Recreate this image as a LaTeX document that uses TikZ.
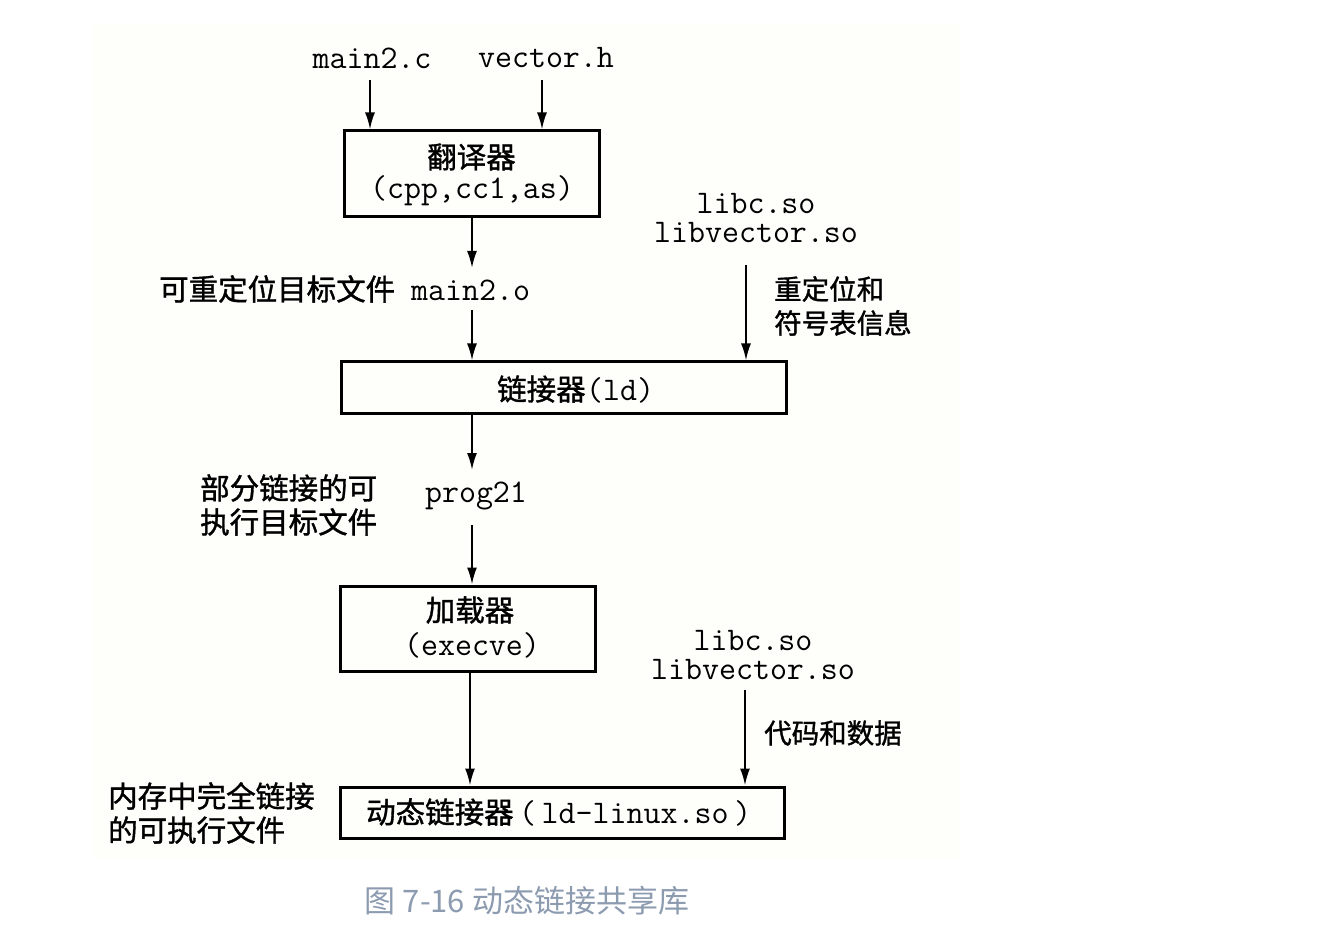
\documentclass[tikz,border=0pt]{standalone}
\usepackage{fontspec}
\newfontfamily\cjk{Noto Sans CJK SC}[FakeBold=1.2]
\newfontfamily\cjkcap{Noto Sans CJK SC}
\usetikzlibrary{arrows.meta}
\definecolor{capcol}{HTML}{8C9BB0}
\definecolor{scanbg}{HTML}{FEFEFB}
\begin{document}
\begin{tikzpicture}[x=1pt,y=-1pt,
  mono/.style={font=\fontsize{33}{37}\selectfont\ttfamily, inner sep=0pt},
  libs/.style={font=\fontsize{33}{29}\selectfont\ttfamily, inner sep=0pt, align=center},
  zh/.style={font=\fontsize{29.5}{34}\selectfont\cjk, inner sep=0pt},
  zhs/.style={font=\fontsize{27.5}{34}\selectfont\cjk, inner sep=0pt, anchor=west, align=left},
  zhl/.style={zh, anchor=west, align=left},
  procbox/.style={draw, line width=3pt, inner sep=0pt},
  flow/.style={line width=2pt, -{Latex[length=17pt,width=10pt]}}
]
\fill[white] (0,0) rectangle (1334,933);
\useasboundingbox (0,0) rectangle (1334,933);
\fill[scanbg] (94,23) rectangle (960,858);

% inputs
\node[mono] (mainc) at (372,58) {main2.c};
\node[mono] (vech) at (546,58) {vector.h};
\coordinate (mainctop) at (370,80);
\coordinate (vechtop) at (542,80);

% box 1
\node[procbox, minimum width=255pt, minimum height=86pt] (trans) at (471.5,174) {};
\node[zh] (transzh) at (471.5,157) {翻译器};
\node[mono] (transtt) at (472,191) {(cpp,cc1,as)};
\draw[flow] (mainctop) -- (mainctop |- trans.north);
\draw[flow] (vechtop) -- (vechtop |- trans.north);

% main2.o
\node[zhl] (relzh) at (159,289) {可重定位目标文件};
\node[mono, anchor=west] (maino) at (411,290) {main2.o};
\coordinate (a1s) at (472,217);
\coordinate (a1e) at (472,268);
\draw[flow] (trans.south -| a1s) -- (a1e);

% libs 1
\node[libs] (libs1) at (756,218) {libc.so\\libvector.so};
\node[zhs] (relinfo) at (774,306) {重定位和\\符号表信息};

% box 2
\node[procbox, minimum width=445pt, minimum height=51pt] (linker) at (563.5,387.5) {};
\node[zh, anchor=west] (linkerzh) at (497,389) {链接器};
\node[mono, anchor=west] (linkertt) at (586,390) {(ld)};
\coordinate (a2s) at (472,310);
\draw[flow] (a2s) -- (a2s |- linker.north);
\coordinate (a3s) at (746,265);
\draw[flow] (a3s) -- (a3s |- linker.north);

% prog21
\node[zhl] (partzh) at (200,505) {部分链接的可\\执行目标文件};
\node[mono] (prog) at (476,496) {prog21};
\coordinate (a4s) at (472,470);
\draw[flow] (linker.south -| a4s) -- (a4s);

% box 3
\node[procbox, minimum width=255pt, minimum height=85pt] (loader) at (467.5,628.5) {};
\node[zh] (loaderzh) at (470,610) {加载器};
\node[mono] (loadertt) at (472,645) {(execve)};
\coordinate (a5s) at (472,525);
\draw[flow] (a5s) -- (a5s |- loader.north);

% libs 2
\node[libs] (libs2) at (753,655) {libc.so\\libvector.so};
\node[zhs] (codedata) at (764,733) {代码和数据};

% box 4
\node[procbox, minimum width=444pt, minimum height=51pt] (dyn) at (562,812.5) {};
\node[zh, anchor=west] (dynzh) at (366,812) {动态链接器};
\node[mono, anchor=west] (dyntt) at (519,813) {(\,ld-linux.so\,)};
\coordinate (a6s) at (470,671);
\draw[flow] (loader.south -| a6s) -- (a6s |- dyn.north);
\coordinate (a7s) at (745,690);
\draw[flow] (a7s) -- (a7s |- dyn.north);

\node[zhl] (memzh) at (108,813) {内存中完全链接\\的可执行文件};

% caption
\node[font=\fontsize{31}{36}\selectfont\cjkcap, text=capcol, inner sep=0pt] (caption) at (527,901) {图 7-16 动态链接共享库};
\end{tikzpicture}
\end{document}
